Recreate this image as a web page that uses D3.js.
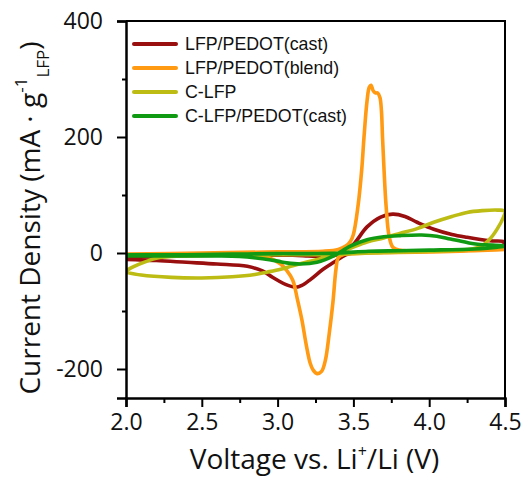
<!DOCTYPE html>
<html><head><meta charset="utf-8">
<script src="https://cdn.jsdelivr.net/npm/d3@7"></script>
<style>body{margin:0;background:#fff}svg{display:block}</style>
</head><body>
<svg id="c" width="524" height="477"></svg>
<script>
// ---- data ----
const seriesNames = ["LFP/PEDOT(cast)", "LFP/PEDOT(blend)", "C-LFP", "C-LFP/PEDOT(cast)"];
const seriesColors = ["#990e0e", "#ff9a12", "#bcbc14", "#109a14"];
const xTicks = [2.0, 2.5, 3.0, 3.5, 4.0, 4.5];
const yTicks = [-200, 0, 200, 400];

// each loop: [voltage, current] forward (2.0 -> 4.5) then reverse (4.5 -> 2.0)
const lfpCast = [
  [2.0,-8],[2.3,-5],[2.6,-4],[2.9,-4],[3.1,-4],[3.2,-5],[3.3,-6],[3.38,-4],[3.43,2],[3.5,15],[3.59,45],[3.68,62],[3.76,67],[3.84,63],[3.92,53],[4.03,41],[4.15,32],[4.25,27],[4.4,21],[4.5,19],
  [4.47,11],[4.35,6],[4.0,4],[3.7,2],[3.5,0],[3.45,-3],[3.37,-16],[3.3,-28],[3.22,-45],[3.16,-56],[3.12,-59],[3.06,-55],[3.0,-47],[2.95,-39],[2.9,-31],[2.8,-23],[2.6,-19],[2.4,-16],[2.2,-13],[2.0,-11]
];
const lfpBlend = [
  [2.0,-2],[2.5,0],[3.0,2],[3.3,3],[3.4,6],[3.45,12],[3.48,20],[3.5,32],[3.53,80],[3.555,144],[3.57,200],[3.59,262],[3.605,286],[3.617,289],[3.63,280],[3.645,276],[3.66,276],[3.675,268],[3.685,245],[3.692,200],[3.702,144],[3.716,80],[3.735,30],[3.76,10],[3.8,5],[4.0,3],[4.3,4],[4.5,6],
  [4.2,3],[3.8,1],[3.6,0],[3.5,-1],[3.43,-3],[3.40,-8],[3.385,-28],[3.365,-85],[3.34,-140],[3.315,-185],[3.29,-204],[3.26,-208],[3.235,-202],[3.215,-190],[3.19,-160],[3.16,-115],[3.13,-79],[3.10,-47],[3.06,-30],[3.02,-19],[2.95,-9],[2.8,-4],[2.5,-3],[2.0,-2]
];
const cLfp = [
  [2.0,-33],[2.1,-38],[2.3,-42],[2.5,-43],[2.7,-41],[2.85,-37],[2.93,-33],[3.02,-28],[3.1,-22],[3.2,-15],[3.28,-10],[3.37,-3],[3.48,8],[3.59,19],[3.7,26],[3.81,34],[3.92,42],[4.03,53],[4.15,63],[4.25,70],[4.35,73],[4.45,74],[4.5,72],
  [4.49,62],[4.45,42],[4.4,24],[4.34,11],[4.25,6],[4.0,3],[3.7,1],[3.4,-2],[3.0,-3],[2.6,-4],[2.4,-5],[2.3,-6],[2.2,-9],[2.14,-14],[2.08,-20],[2.03,-26],[2.0,-31]
];
const cLfpCast = [
  [2.0,-5],[2.3,-5],[2.6,-5],[2.75,-6],[2.9,-10],[3.0,-14],[3.06,-17],[3.15,-19],[3.26,-16],[3.37,-5],[3.48,12],[3.59,23],[3.7,28],[3.81,30],[3.95,31],[4.05,29],[4.14,24],[4.25,18],[4.32,15],[4.5,12],
  [4.45,10],[4.3,7],[4.0,5],[3.8,4],[3.6,3],[3.4,0],[3.2,-1],[3.0,-1],[2.7,-2],[2.4,-3],[2.0,-3]
];
const seriesData = [lfpCast, lfpBlend, cLfp, cLfpCast];

// ---- chart ----
const svg = d3.select("#c");
const L = 126, R = 505, T = 21, B = 398;
const x = d3.scaleLinear().domain([2.0, 4.5]).range([L, R]);
const y = d3.scaleLinear().domain([-250, 400]).range([B, T]);
const font = "'Open Sans', sans-serif";

svg.append("clipPath").attr("id","clip").append("rect")
  .attr("x", L).attr("y", T).attr("width", R-L).attr("height", B-T);

const line = d3.line().x(d => x(d[0])).y(d => y(d[1])).curve(d3.curveCatmullRom.alpha(0.5));
const g = svg.append("g").attr("clip-path","url(#clip)");
seriesData.forEach((s,i) => {
  g.append("path").attr("d", line(s)).attr("fill","none")
    .attr("stroke", seriesColors[i]).attr("stroke-width", 3.6)
    .attr("stroke-linejoin","round").attr("stroke-linecap","round");
});

// frame (top/right)
svg.append("path").attr("d", `M${L},${T}H${R}V${B}`).attr("fill","none").attr("stroke","#000").attr("stroke-width",2);

// x axis
const xAxis = svg.append("g").attr("transform", `translate(0,${B})`)
  .call(d3.axisBottom(x).tickValues(xTicks).tickSize(9).tickPadding(6).tickFormat(d3.format(".1f")));
svg.append("g").attr("transform", `translate(0,${B})`)
  .call(d3.axisBottom(x).tickValues([2.25,2.75,3.25,3.75,4.25]).tickSize(5).tickFormat(""))
  .call(a => a.select(".domain").remove());
// y axis
const yAxis = svg.append("g").attr("transform", `translate(${L},0)`)
  .call(d3.axisLeft(y).tickValues(yTicks).tickSize(9).tickPadding(14).tickFormat(d => String(d)));
svg.append("g").attr("transform", `translate(${L},0)`)
  .call(d3.axisLeft(y).tickValues([-100,100,300]).tickSize(4).tickFormat(""))
  .call(a => a.select(".domain").remove());

svg.selectAll(".domain").attr("stroke","#000").attr("stroke-width",2.5);
svg.selectAll(".tick line").attr("stroke","#000").attr("stroke-width",2);
xAxis.selectAll("text").attr("font-family", font).attr("font-size", 23).attr("fill","#111").attr("dy","0.75em");
yAxis.selectAll("text").attr("font-family", font).attr("font-size", 23).attr("fill","#111");

// axis titles
const xt = svg.append("text").attr("x", (L+R)/2 - 1).attr("y", 469)
  .attr("text-anchor","middle").attr("font-family", font).attr("font-size", 28).attr("fill","#111");
xt.append("tspan").text("Voltage vs. Li");
xt.append("tspan").text("+").attr("font-size", 16).attr("dy", -12);
xt.append("tspan").text("/Li (V)").attr("dy", 12);

const yt = svg.append("text").attr("transform", `translate(40,${218}) rotate(-90)`)
  .attr("text-anchor","middle").attr("font-family", font).attr("font-size", 28).attr("fill","#111");
yt.append("tspan").text("Current Density (mA · g");
yt.append("tspan").text("-1").attr("font-size", 17).attr("dy", -13);
yt.append("tspan").text("LFP").attr("font-size", 17).attr("dy", 22);
yt.append("tspan").text(")").attr("dy", -9);

// legend
const leg = svg.append("g");
seriesNames.forEach((n,i) => {
  const cy = 44 + i*24;
  leg.append("line").attr("x1",134).attr("x2",176).attr("y1",cy).attr("y2",cy)
    .attr("stroke", seriesColors[i]).attr("stroke-width",4).attr("stroke-linecap","round");
  leg.append("text").attr("x",185).attr("y",cy+6).text(n)
    .attr("font-family","'Liberation Sans', Arial, sans-serif").attr("font-size",17.8).attr("fill","#111");
});
</script>
</body></html>
